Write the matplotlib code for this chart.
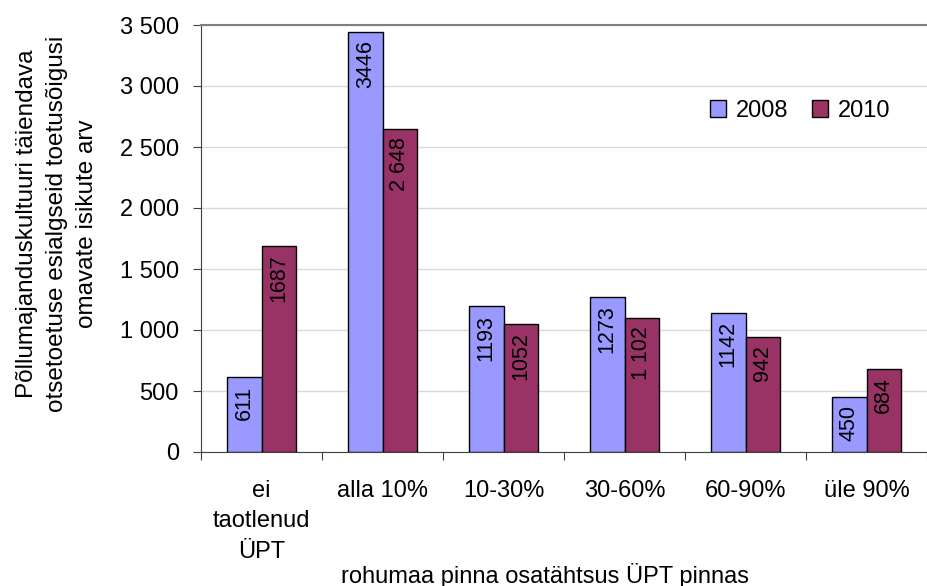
import matplotlib.pyplot as plt
import numpy as np
from matplotlib.ticker import FuncFormatter

plt.rcParams['font.family'] = ['Liberation Sans', 'DejaVu Sans']

# data
categories = ['ei\ntaotlenud\nÜPT', 'alla 10%', '10-30%', '30-60%', '60-90%', 'üle 90%']
v2008 = [611, 3446, 1193, 1273, 1142, 450]
v2010 = [1687, 2648, 1052, 1102, 942, 684]
lab2008 = ['611', '3446', '1193', '1273', '1142', '450']
lab2010 = ['1687', '2 648', '1052', '1 102', '942', '684']

fig = plt.figure(figsize=(9.27, 5.86), dpi=100)
ax = fig.add_axes([201/927, 1 - 452/586, 1 - 201/927, (452 - 25)/586])

x = np.arange(len(categories))
w = 0.285
b1 = ax.bar(x - w/2, v2008, w, color='#9999FF', edgecolor='black', linewidth=1, label='2008', zorder=3)
b2 = ax.bar(x + w/2, v2010, w, color='#993366', edgecolor='black', linewidth=1, label='2010', zorder=3)

for bars, labs in ((b1, lab2008), (b2, lab2010)):
    for r, t in zip(bars, labs):
        ax.annotate(t, (r.get_x() + r.get_width()/2, r.get_height()),
                    xytext=(0, -6), textcoords='offset points',
                    rotation=90, ha='center', va='top', fontsize=15.5, zorder=4)

ax.set_xlim(-0.5, len(categories) - 0.5)
ax.set_ylim(0, 3500)
ax.set_yticks(np.arange(0, 3501, 500))
ax.yaxis.set_major_formatter(FuncFormatter(lambda v, p: f'{int(v):,}'.replace(',', ' ')))
ax.grid(axis='y', color='#d9d9d9', linewidth=1, zorder=0)

ax.set_xticks(np.arange(len(categories) + 1) - 0.5)
ax.set_xticklabels([])
ax.set_xticks(x, minor=True)
ax.set_xticklabels(categories, minor=True, fontsize=17, linespacing=1.5)
ax.tick_params(axis='x', which='minor', length=0, pad=20)
ax.tick_params(axis='x', which='major', length=6, direction='out', color='#404040')
ax.tick_params(axis='y', length=6, direction='out', color='#404040', labelsize=17, pad=10)

for s in ('left', 'bottom'):
    ax.spines[s].set_color('#404040')
ax.spines['right'].set_visible(False)
ax.spines['top'].set_color('#808080')
ax.spines['top'].set_linewidth(1.5)

fig.text(57/927, 1 - 224/586,
         'Põllumajanduskultuuri täiendava\notsetoetuse esialgseid toetusõigusi\nomavate isikute arv',
         rotation=90, ha='center', va='center', multialignment='center', fontsize=17.5, linespacing=1.45)
fig.text(545/927, 1 - 575/586, 'rohumaa pinna osatähtsus ÜPT pinnas',
         ha='center', va='center', fontsize=17)

fig.legend(loc='center', bbox_to_anchor=(800/927, 1 - 111/586), ncol=2, frameon=False,
           fontsize=17, handlelength=0.7, handleheight=0.7, handletextpad=0.4,
           columnspacing=1.0)

fig.savefig('out.png', dpi=100)
